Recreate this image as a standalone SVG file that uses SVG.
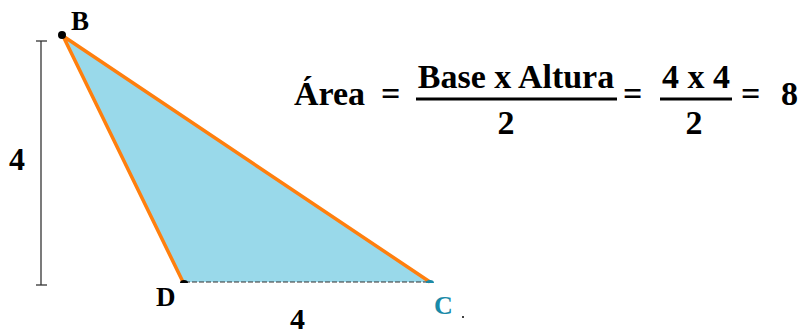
<svg xmlns="http://www.w3.org/2000/svg" width="803" height="336" viewBox="0 0 803 336">
<style>
text{font-family:'Liberation Serif','DejaVu Serif',serif;font-weight:700;fill:#000}
.f{font-size:34px}
</style>
<rect width="803" height="336" fill="#fff"/>
<g id="triangle">
<polygon points="63,36 183,282 430,282" fill="#99d9ea" stroke="none"/>
<polyline points="183,282 63,36 430,282" fill="none" stroke="#ff7f0e" stroke-width="3.5" stroke-linejoin="round"/>
<line x1="185" y1="282" x2="428" y2="282" stroke="#333" stroke-width="1.2" stroke-dasharray="5,2"/>
<circle cx="62" cy="35" r="4" fill="#000"/>
<path d="M180,283 a4,3 0 0 1 8,0 z" fill="#000"/>
<path d="M426,283 a4,3 0 0 1 8,0 z" fill="#1a8aa8"/>
</g>
<g id="height-dim">
<line x1="41" y1="41" x2="41" y2="285" stroke="#333" stroke-width="1.3"/>
<line x1="36" y1="41" x2="47" y2="41" stroke="#333" stroke-width="1.3"/>
<line x1="36" y1="285" x2="47" y2="285" stroke="#333" stroke-width="1.3"/>
</g>
<g id="labels">
<text x="71" y="30" font-size="27">B</text>
<text x="156" y="306" font-size="27">D</text>
<text x="434" y="314" font-size="26" style="fill:#1a8aa8">C</text>
<circle cx="463" cy="317" r="1" fill="#000"/>
<text x="9" y="170" font-size="32">4</text>
<text x="290" y="329" font-size="30">4</text>
</g>
<g id="formula">
<text class="f" x="294" y="105">Área</text>
<text class="f" x="381" y="105">=</text>
<text class="f" x="516" y="88" text-anchor="middle">Base x Altura</text>
<line x1="416" y1="99" x2="617" y2="99" stroke="#000" stroke-width="3"/>
<text class="f" x="506" y="134" text-anchor="middle">2</text>
<text class="f" x="623" y="105">=</text>
<text class="f" x="696" y="88" text-anchor="middle">4 x 4</text>
<line x1="660" y1="99" x2="732" y2="99" stroke="#000" stroke-width="3"/>
<text class="f" x="694" y="134" text-anchor="middle">2</text>
<text class="f" x="741" y="105">=</text>
<text class="f" x="781" y="105">8</text>
</g>
</svg>
